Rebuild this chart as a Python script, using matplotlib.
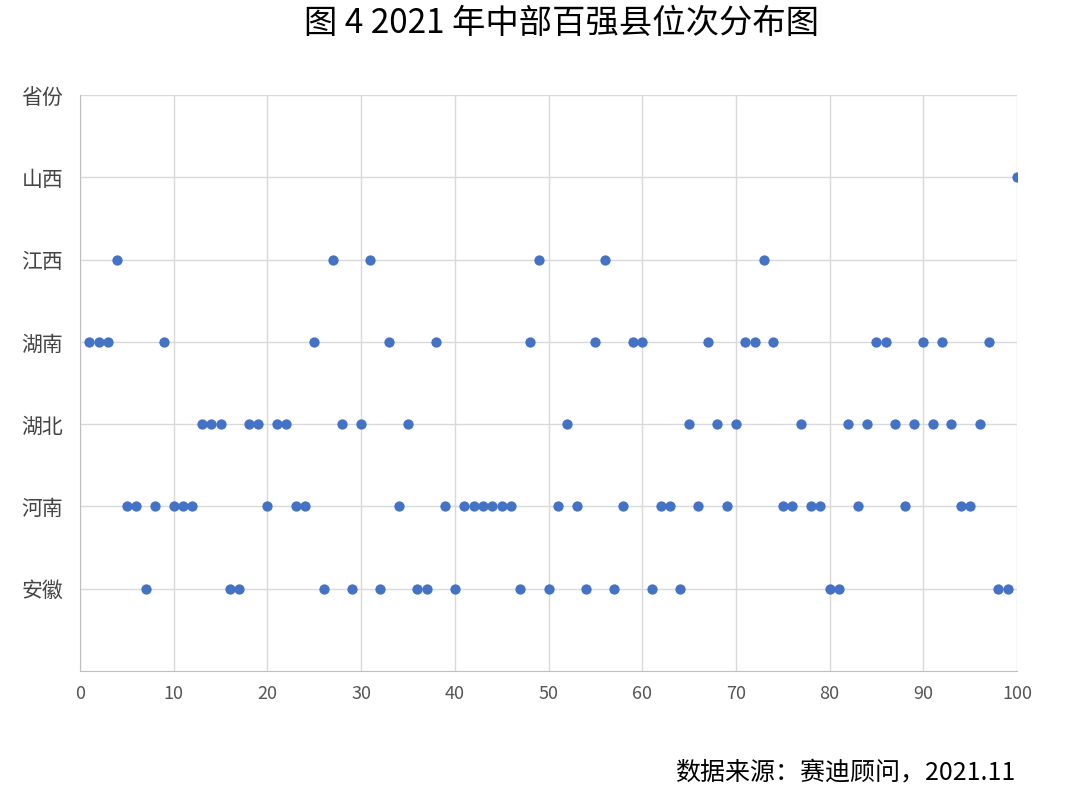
import matplotlib
matplotlib.use("Agg")
import matplotlib.pyplot as plt

plt.rcParams['font.family'] = ['Noto Sans CJK SC', 'DejaVu Sans']

provinces = ["安徽", "河南", "湖北", "湖南", "江西", "山西", "省份"]
shanxi = [100]
jiangxi = [4, 27, 31, 49, 56, 73]
hunan = [1, 2, 3, 9, 25, 33, 38, 48, 55, 59, 60, 67, 71, 72, 74, 85, 86, 90, 92, 97]
hubei = [13, 14, 15, 18, 19, 21, 22, 28, 30, 35, 52, 65, 68, 70, 77, 82, 84, 87, 89, 91, 93, 96]
henan = [5, 6, 8, 10, 11, 12, 20, 23, 24, 34, 39, 41, 42, 43, 44, 45, 46, 51, 53, 58, 62, 63,
         66, 69, 75, 76, 78, 79, 83, 88, 94, 95]
anhui = [7, 16, 17, 26, 29, 32, 36, 37, 40, 47, 50, 54, 57, 61, 64, 80, 81, 98, 99]

series = [(anhui, 1), (henan, 2), (hubei, 3), (hunan, 4), (jiangxi, 5), (shanxi, 6)]

fig = plt.figure(figsize=(10.8, 8.08), dpi=100)
ax = fig.add_axes([80/1080, 1-671/808, 937/1080, 576/808])
for ranks, level in series:
    ax.scatter(ranks, [level]*len(ranks), s=55, color='#4472C4', zorder=3, linewidths=0)

ax.set_xlim(0, 100)
ax.set_ylim(0, 7)
ax.set_xticks(range(0, 101, 10))
ax.set_yticks(range(1, 8))
ax.set_yticklabels(provinces, fontsize=15, color='#444444')
ax.tick_params(axis='x', labelsize=13, colors='#555555', length=0, pad=10)
ax.tick_params(axis='y', length=0, pad=12)
ax.grid(True, color='#d9d9d9', linewidth=1)
for s in ['top', 'right']:
    ax.spines[s].set_visible(False)
ax.spines['left'].set_color('#bfbfbf')
ax.spines['bottom'].set_color('#bfbfbf')

fig.text(0.52, 1-24/808, "图 4 2021 年中部百强县位次分布图", ha='center', va='center', fontsize=24)
fig.text(1015/1080, 1-772/808, "数据来源：赛迪顾问，2021.11", ha='right', va='center', fontsize=18)

fig.savefig("out.png", dpi=100)
